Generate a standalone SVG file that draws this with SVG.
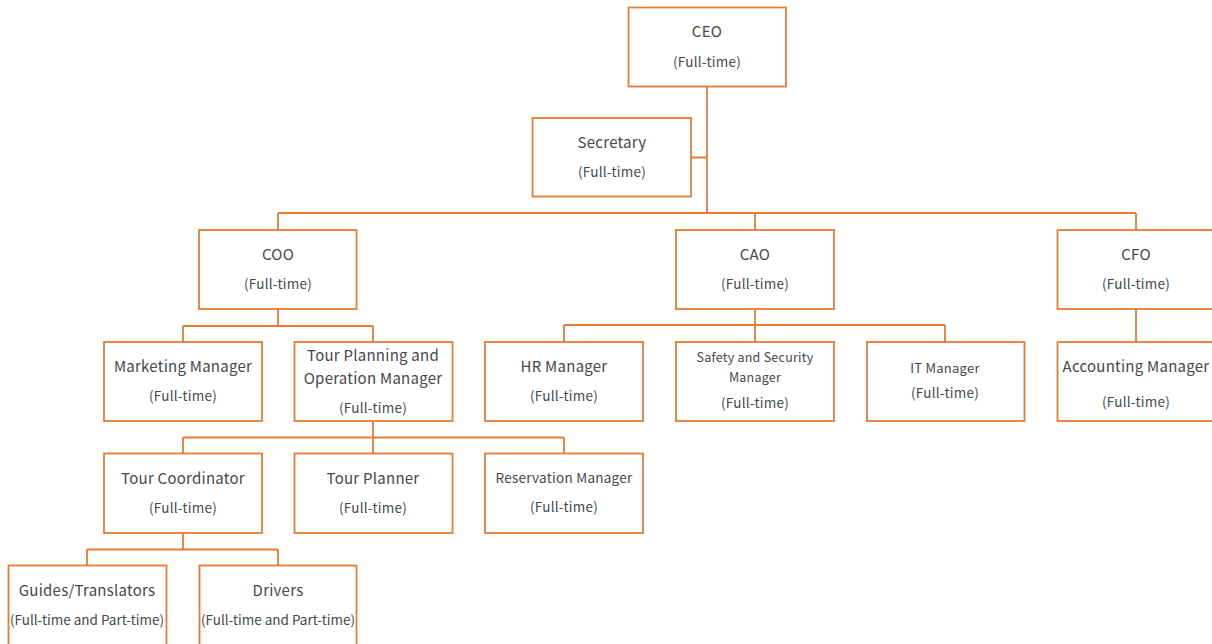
<svg xmlns="http://www.w3.org/2000/svg" width="1212" height="644" viewBox="0 0 1212 644">
<style>
.box{fill:#fff;stroke:#E67B33;stroke-width:1.8}
.conn{fill:none;stroke:#E67B33;stroke-width:1.8}
text{font-family:"Noto Sans CJK JP","Noto Sans",sans-serif;fill:#474747;text-anchor:middle;dominant-baseline:central;letter-spacing:0.25px}
.t{font-size:15px}
.s{font-size:13.5px}
.m{font-size:13px}
.x{font-size:12.5px}
.w{font-size:13.5px;letter-spacing:0}
</style>
<rect width="1212" height="644" fill="#fff"/>
<g id="connectors">
<path class="conn" d="M707,86.5V213M691,157.5H707M278,213H1136M278,213V230M755,213V230M1136,213V230"/>
<path class="conn" d="M278,309V326M183,326H373M183,326V342M373,326V342"/>
<path class="conn" d="M755,309V342M564,325H945M564,325V342M945,325V342"/>
<path class="conn" d="M1136,309V342"/>
<path class="conn" d="M373,421V437.5M183,437.5H564M183,437.5V453.5M373,437.5V453.5M564,437.5V453.5"/>
<path class="conn" d="M183,533V549.5M87,549.5H278M87,549.5V565.5M278,549.5V565.5"/>
</g>
<g id="ceo"><rect class="box" x="628.5" y="7.5" width="157.5" height="79"/><text class="t" x="707" y="30.5">CEO</text><text class="s" x="707" y="60.5">(Full-time)</text></g>
<g id="secretary"><rect class="box" x="532.5" y="118" width="158.5" height="78.5"/><text class="t" x="612" y="141">Secretary</text><text class="s" x="612" y="171">(Full-time)</text></g>
<g id="coo"><rect class="box" x="199" y="230" width="157.5" height="79"/><text class="t" x="278" y="253">COO</text><text class="s" x="278" y="283">(Full-time)</text></g>
<g id="cao"><rect class="box" x="676" y="230" width="158" height="79"/><text class="t" x="755" y="253">CAO</text><text class="s" x="755" y="283">(Full-time)</text></g>
<g id="cfo"><rect class="box" x="1057.5" y="230" width="158" height="79"/><text class="t" x="1136" y="253">CFO</text><text class="s" x="1136" y="283">(Full-time)</text></g>
<g id="marketing"><rect class="box" x="104" y="342" width="158" height="79"/><text class="t" x="183" y="365">Marketing Manager</text><text class="s" x="183" y="395">(Full-time)</text></g>
<g id="tour-planning-operation"><rect class="box" x="294.5" y="342" width="158" height="79"/><text class="t" x="373" y="354">Tour Planning and</text><text class="t" x="373" y="377">Operation Manager</text><text class="s" x="373" y="407">(Full-time)</text></g>
<g id="hr"><rect class="box" x="485" y="342" width="158" height="79"/><text class="t" x="564" y="365">HR Manager</text><text class="s" x="564" y="395">(Full-time)</text></g>
<g id="safety"><rect class="box" x="676" y="342" width="158" height="79"/><text class="x" x="755" y="356">Safety and Security</text><text class="x" x="755" y="376">Manager</text><text class="s" x="755" y="402">(Full-time)</text></g>
<g id="it"><rect class="box" x="867" y="342" width="157.5" height="79"/><text class="m" x="945" y="367">IT Manager</text><text class="s" x="945" y="392">(Full-time)</text></g>
<g id="accounting"><rect class="box" x="1057.5" y="342" width="158" height="79"/><text class="t" x="1136" y="365">Accounting Manager</text><text class="s" x="1136" y="401">(Full-time)</text></g>
<g id="tour-coordinator"><rect class="box" x="104" y="453.5" width="158" height="79.5"/><text class="t" x="183" y="477">Tour Coordinator</text><text class="s" x="183" y="507">(Full-time)</text></g>
<g id="tour-planner"><rect class="box" x="294.5" y="453.5" width="158" height="79.5"/><text class="t" x="373" y="477">Tour Planner</text><text class="s" x="373" y="507">(Full-time)</text></g>
<g id="reservation"><rect class="box" x="485" y="453.5" width="158" height="79.5"/><text class="s" x="564" y="476.5">Reservation Manager</text><text class="s" x="564" y="506">(Full-time)</text></g>
<g id="guides"><rect class="box" x="8.5" y="565.5" width="158" height="85"/><text class="t" x="87" y="589">Guides/Translators</text><text class="w" x="87" y="619">(Full-time and Part-time)</text></g>
<g id="drivers"><rect class="box" x="199.5" y="565.5" width="157" height="85"/><text class="t" x="278" y="589">Drivers</text><text class="w" x="278" y="619">(Full-time and Part-time)</text></g>
</svg>
